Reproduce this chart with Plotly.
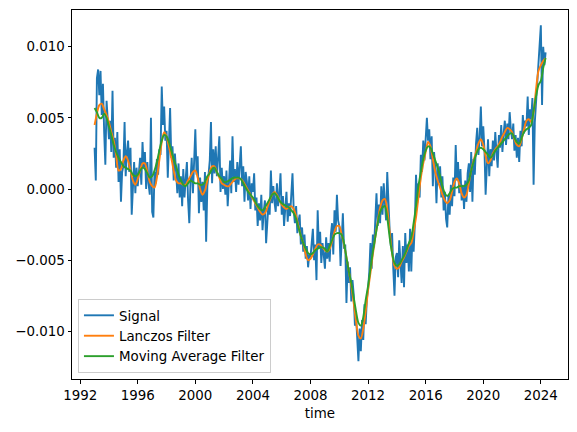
import pandas as pd
import plotly.graph_objects as go

# Signal, monthly from 1993-01 to 2024-05 (units of 1e-3)
signal_e3 = [
    # 1993
    2.9, 0.6, 7.8, 8.4, 6.6, 8.3, 5.2, 7.4, 4.0, 1.7, 6.2, 4.5,
    # 1994
    3.5, 4.8, 2.6, 6.9, 2.2, 3.6, 1.5, 4.0, 0.5, 2.8, -0.9, 1.2,
    # 1995
    1.6, 4.7, 0.9, 2.6, 3.4, 1.2, 2.9, -1.8, 0.8, 1.9, -0.3, 1.5,
    # 1996
    0.2, 1.4, 2.2, 0.3, 3.3, 1.5, 2.6, 0.0, 1.9, 0.4, -0.4, 5.0,
    # 1997
    -1.6, -2.0, 1.2, 0.4, 2.1, 1.0, 2.8, 2.4, 7.2, 4.5, 5.8, 3.4,
    # 1998
    4.1, 0.8, 3.5, 5.7, 2.2, 3.0, 0.6, 2.5, 1.2, -0.3, 1.8, -0.6,
    # 1999
    0.9, -1.2, 1.4, -0.6, 0.7, 1.9, -0.8, -2.4, 0.6, 2.2, -0.3, 1.6,
    # 2000
    4.2, 1.0, 2.3, -1.7, 0.8, -0.9, 0.5, -1.5, 1.2, -3.7, 0.2, 1.0,
    # 2001
    2.0, 4.7, 0.4, 2.8, 1.1, 3.0, 0.9, 2.2, 3.7, -0.2, 1.5, 0.0,
    # 2002
    0.9, -0.4, 1.3, -1.2, 0.6, 2.0, -0.3, 3.7, 0.5, 1.4, -0.2, 1.9,
    # 2003
    0.3, 2.1, 3.0, 0.2, 1.6, -0.9, 1.2, 0.5, -0.8, 0.9, -1.4, 0.4,
    # 2004
    -0.2, 1.1, -1.5, -0.6, -2.6, -1.0, -2.2, -0.4, -2.9, -1.6, -0.8, -3.8,
    # 2005
    -2.4, -0.9, -1.8, 1.3, -1.0, 0.2, -0.9, -1.6, 0.4, -1.2, -0.3, 1.1,
    # 2006
    -1.8, -0.5, -2.6, -1.2, -0.2, -2.3, -1.0, -1.9, -0.6, 1.1, -1.5, -2.4,
    # 2007
    -1.2, -3.1, -2.3, -1.8, -3.9, -2.7, -4.4, -3.2, -4.9, -4.0, -5.5, -4.6,
    # 2008
    -4.8, -3.6, -2.8, -5.0, -3.9, -6.4, -1.5, -4.2, -3.0, -5.2, -3.8, -4.6,
    # 2009
    -5.6, -3.4, -4.9, -3.8, -5.1, -3.2, -2.4, -4.6, -1.5, -3.0, -0.4, -2.2,
    # 2010
    -2.6, -5.4, -3.1, -1.7, -4.2, -3.9, -8.0, -5.1, -6.6, -5.5, -7.9, -6.4,
    # 2011
    -7.4, -9.6, -8.9, -11.0, -12.1, -9.8, -11.4, -9.2, -10.6, -8.1, -9.5, -7.7,
    # 2012
    -7.0, -5.8, -3.8, -5.6, -3.2, -4.1, -2.0, -0.3, -2.6, -1.1, -2.4, 0.2,
    # 2013
    -1.8, 0.4, -0.9, -2.2, 1.2, -1.5, -2.9, -4.0, -3.1, -5.6, -7.5, -4.8,
    # 2014
    -4.5, -6.2, -3.6, -5.1, -6.6, -4.0, -6.9, -3.1, -5.2, -3.9, -5.8, -2.8,
    # 2015
    -5.8, -3.0, -4.4, -2.5, 1.0, -1.0, 0.4, -0.6, 2.4, 1.2, 3.4, 2.0,
    # 2016
    3.8, 5.0, 3.4, 4.2, 2.1, 3.7, 0.2, 2.6, 1.4, -1.0, 1.8, 0.4,
    # 2017
    1.6, -0.6, 0.9, -1.5, -0.2, -2.1, -2.7, -0.4, -1.8, 0.3, -1.2, 0.8,
    # 2018
    -0.5, 3.1, 0.6, 1.9, -0.3, 1.4, -0.8, 0.3, -1.4, 0.6, -0.9, 1.1,
    # 2019
    1.8, -0.2, 2.6, -0.9, 2.1, 1.0, 3.2, 4.3, 2.4, 3.6, 5.8, 3.0,
    # 2020
    4.4, 2.7, -0.4, 1.2, 3.5, 0.9, 2.8, 1.6, 3.4, 2.0, 4.0, 2.6,
    # 2021
    1.5, 3.8, 2.9, 4.5, 2.6, 3.9, 4.8, 3.1, 4.6, 3.5, 5.4, 4.2,
    # 2022
    3.5, 4.6, 2.7, 3.8, 2.2, 3.6, 1.9, 4.1, 3.0, 5.2, 3.9, 4.8,
    # 2023
    4.4, 6.5, 3.8, 5.6, 4.9, 6.4, 0.3, 4.7, 6.1, 7.3, 8.6, 9.4,
    # 2024
    11.5, 5.9, 10.0, 8.7, 9.6,
]

# Lanczos filter, every 2 months from 1993-01 (units of 1e-3)
lanczos_e3 = [
    4.5, 5.3, 5.9, 6.0, 5.6, 5.2,      # 1993
    4.7, 4.0, 3.4, 2.4, 1.3, 1.4,      # 1994
    2.0, 2.3, 2.0, 1.3, 0.6, 0.3,      # 1995
    0.7, 1.3, 1.8, 1.8, 1.2, 0.5,      # 1996
    0.2, 0.1, 0.8, 2.0, 3.3, 4.0,      # 1997
    3.7, 3.0, 2.2, 1.3, 0.6, 0.4,      # 1998
    0.4, 0.3, 0.3, 0.6, 0.9, 1.2,      # 1999
    1.3, 0.8, 0.0, -0.4, -0.1, 0.6,    # 2000
    1.2, 1.6, 1.6, 1.2, 0.8, 0.4,      # 2001
    0.3, 0.2, 0.2, 0.4, 0.6, 0.75,     # 2002
    0.75, 0.7, 0.5, 0.2, -0.1, -0.4,   # 2003
    -0.7, -1.0, -1.3, -1.6, -1.8, -1.7,  # 2004
    -1.3, -0.8, -0.4, -0.2, -0.4, -0.8,  # 2005
    -1.1, -1.3, -1.4, -1.3, -1.2, -1.4,  # 2006
    -1.9, -2.6, -3.3, -3.8, -4.6, -5.0,  # 2007
    -4.9, -4.6, -4.2, -3.9, -3.9, -4.1,  # 2008
    -4.3, -4.4, -4.2, -3.7, -3.0, -2.6,  # 2009
    -2.6, -3.2, -3.9, -4.8, -5.8, -6.8,  # 2010
    -8.0, -9.3, -10.3, -10.5, -9.8, -8.6,  # 2011
    -7.1, -5.9, -4.6, -3.4, -2.3, -1.3,  # 2012
    -0.8, -0.7, -1.4, -3.0, -4.5, -5.4,  # 2013
    -5.6, -5.5, -5.1, -4.8, -4.4, -4.0,  # 2014
    -3.8, -3.0, -2.0, -0.6, 0.8, 1.8,    # 2015
    2.6, 3.3, 3.0, 2.1, 1.2, 0.6,        # 2016
    0.1, -0.4, -0.8, -1.0, -0.8, -0.2,   # 2017
    0.5, 0.75, 0.4, -0.3, -0.6, -0.4,    # 2018
    0.4, 1.3, 2.0, 2.6, 3.2, 3.5,        # 2019
    3.1, 2.3, 1.8, 2.0, 2.5, 2.8,        # 2020
    3.0, 3.3, 3.7, 4.0, 4.3, 4.2,        # 2021
    4.0, 3.5, 3.1, 3.0, 3.5, 4.2,        # 2022
    4.8, 4.9, 4.7, 5.4, 7.0, 8.3,        # 2023
    8.7, 9.0, 9.2,                       # 2024
]

# Moving average filter, every 2 months from 1993-01 (units of 1e-3)
moving_avg_e3 = [
    5.7, 5.4, 5.0, 5.0, 5.3, 5.0,        # 1993
    4.4, 3.8, 3.1, 2.6, 2.2, 1.9,        # 1994
    1.6, 1.5, 1.4, 1.3, 1.0, 0.9,        # 1995
    1.0, 1.3, 1.5, 1.4, 1.1, 0.8,        # 1996
    0.9, 1.3, 1.9, 2.7, 3.4, 3.8,        # 1997
    3.7, 3.3, 2.7, 2.1, 1.6, 1.0,        # 1998
    0.6, 0.3, 0.2, 0.4, 0.6, 0.5,        # 1999
    0.4, 0.4, 0.3, 0.3, 0.5, 0.9,        # 2000
    1.1, 1.4, 1.5, 1.2, 0.9, 0.7,        # 2001
    0.5, 0.5, 0.6, 0.7, 0.8, 0.8,        # 2002
    0.8, 0.7, 0.4, 0.1, -0.2, -0.4,      # 2003
    -0.6, -0.9, -1.2, -1.4, -1.5, -1.3,  # 2004
    -1.0, -0.7, -0.4, -0.3, -0.5, -0.8,  # 2005
    -1.0, -1.1, -1.2, -1.3, -1.5, -1.7,  # 2006
    -2.1, -2.7, -3.3, -3.8, -4.2, -4.5,  # 2007
    -4.6, -4.5, -4.3, -4.2, -4.1, -4.1,  # 2008
    -4.2, -4.4, -4.0, -3.6, -3.2, -3.1,  # 2009
    -3.1, -3.2, -3.8, -4.8, -5.8, -6.6,  # 2010
    -7.6, -8.6, -9.4, -9.6, -9.0, -7.8,  # 2011
    -6.8, -5.6, -4.4, -3.4, -2.4, -1.6,  # 2012
    -1.3, -1.2, -2.0, -3.4, -4.5, -5.2,  # 2013
    -5.4, -5.3, -5.0, -4.7, -4.3, -3.8,  # 2014
    -3.4, -2.4, -1.2, 0.2, 1.2, 2.1,     # 2015
    2.7, 3.0, 2.9, 2.5, 2.0, 1.5,        # 2016
    0.9, 0.2, -0.3, -0.5, -0.3, 0.0,     # 2017
    0.1, 0.1, 0.2, 0.2, 0.2, 0.3,        # 2018
    0.6, 1.3, 1.9, 2.4, 2.8, 2.9,        # 2019
    2.8, 2.6, 2.4, 2.2, 2.4, 2.7,        # 2020
    2.9, 3.1, 3.3, 3.5, 3.7, 3.9,        # 2021
    3.9, 3.6, 3.3, 3.2, 3.6, 4.0,        # 2022
    4.2, 4.3, 4.5, 5.5, 6.5, 7.3,        # 2023
    7.6, 8.5, 9.2,                       # 2024
]

y_tick_vals = [-0.010, -0.005, 0.0, 0.005, 0.010]
y_tick_text = ["\u22120.010", "\u22120.005", "0.000", "0.005", "0.010"]

signal = [v * 1e-3 for v in signal_e3]
lanczos = [v * 1e-3 for v in lanczos_e3]
moving_avg = [v * 1e-3 for v in moving_avg_e3]

t_signal = pd.date_range("1993-01-01", periods=len(signal), freq="MS")
t_filter = pd.date_range("1993-01-01", periods=len(lanczos), freq="2MS")

fig = go.Figure()
fig.add_trace(go.Scatter(x=t_signal, y=signal, mode="lines", name="Signal",
                         line=dict(color="#1f77b4", width=1.9)))
fig.add_trace(go.Scatter(x=t_filter, y=lanczos, mode="lines", name="Lanczos Filter",
                         line=dict(color="#ff7f0e", width=1.9, shape="spline", smoothing=0.8)))
fig.add_trace(go.Scatter(x=t_filter, y=moving_avg, mode="lines", name="Moving Average Filter",
                         line=dict(color="#2ca02c", width=1.9, shape="spline", smoothing=0.8)))

font_family = "DejaVu Sans"
fs = 13.4
fig.update_layout(
    width=577, height=432,
    margin=dict(l=72, r=9, t=10, b=53),
    paper_bgcolor="white", plot_bgcolor="white",
    font=dict(family=font_family, size=fs, color="black"),
    showlegend=True,
    legend=dict(x=0.012, y=0.016, xanchor="left", yanchor="bottom",
                bgcolor="rgba(255,255,255,0.8)", bordercolor="#cccccc", borderwidth=1,
                font=dict(size=fs), tracegroupgap=0, itemwidth=30),
    xaxis=dict(
        range=["1991-06-08", "2025-11-20"],
        type="date", tick0="1992-01-01", dtick="M48", tickformat="%Y",
        showgrid=False, zeroline=False,
        showline=True, linecolor="black", linewidth=1, mirror=True,
        ticks="outside", ticklen=3.5, tickwidth=0.8, tickcolor="black",
        title=dict(text="time", font=dict(size=fs), standoff=7),
    ),
    yaxis=dict(
        range=[-0.01335, 0.01258],
        tickvals=y_tick_vals, ticktext=y_tick_text,
        showgrid=False, zeroline=False,
        showline=True, linecolor="black", linewidth=1, mirror=True,
        ticks="outside", ticklen=3.5, tickwidth=0.8, tickcolor="black",
    ),
)

fig.write_html("out.html")
